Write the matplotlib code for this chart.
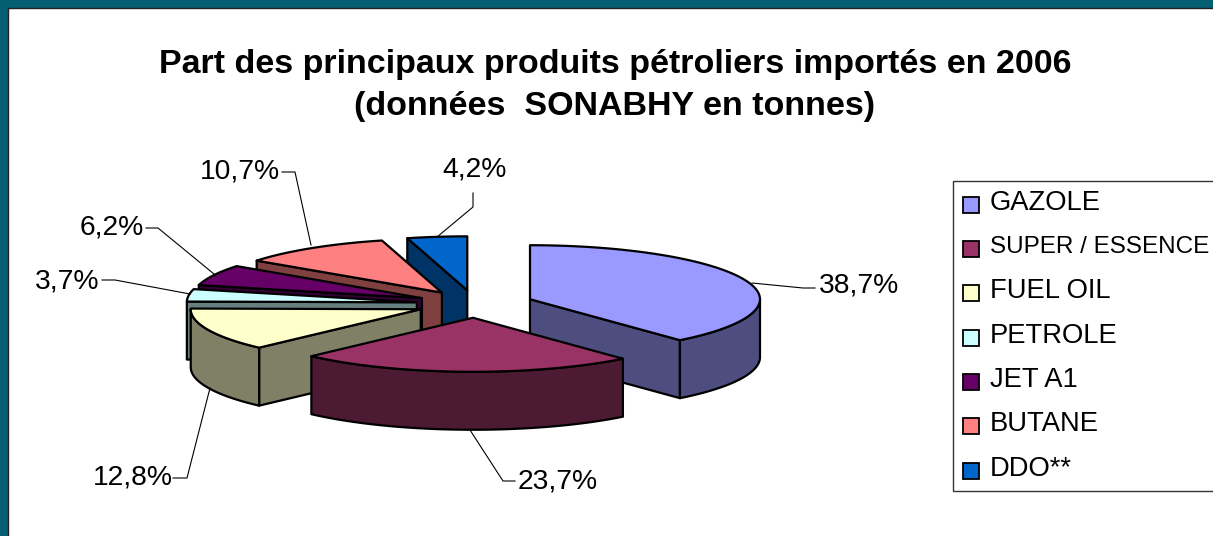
import numpy as np
from matplotlib import pyplot as plt
from matplotlib.patches import Polygon, Rectangle

title_lines = ['Part des principaux produits pétroliers importés en 2006',
               '(données  SONABHY en tonnes)']
products = ['GAZOLE', 'SUPER / ESSENCE', 'FUEL OIL', 'PETROLE', 'JET A1', 'BUTANE', 'DDO**']
shares = [38.7, 23.7, 12.8, 3.7, 6.2, 10.7, 4.2]
share_labels = ['38,7%', '23,7%', '12,8%', '3,7%', '6,2%', '10,7%', '4,2%']
top_colors = ['#9999FF', '#993366', '#FFFFCC', '#CCFFFF', '#660066', '#FF8080', '#0066CC']
side_colors = ['#4D4D80', '#4D1A33', '#808066', '#668080', '#330033', '#804040', '#003366']

# pie geometry, in pixels
cx, cy = 475, 304
rx, ry = 230, 54
depth = 58
explode = 0.255
edge_lw = 1.6

# label anchor (left x, centre y) and leader path for each slice
label_pos = [(819, 286), (518, 481), (93, 477), (35, 281), (80, 228), (200, 172), (442, 170)]
leaders = [
    [(752, 283), (803, 288), (815, 288)],
    [(470, 430), (503, 481), (515, 481)],
    [(173, 478), (187, 478), (210, 388)],
    [(102, 280), (115, 280), (190, 294)],
    [(146, 228), (158, 228), (214, 274)],
    [(282, 172), (295, 172), (311, 245)],
    [(473, 193), (473, 207), (437, 237)],
]


def rim(x0, y0, a0, a1, n=60):
    a = np.radians(np.linspace(a0, a1, n))
    return np.column_stack([x0 + rx * np.sin(a), y0 - ry * np.cos(a)])


def face(ax, pts, color, z):
    ax.add_patch(Polygon(pts, closed=True, facecolor=color, edgecolor='black',
                         linewidth=edge_lw, joinstyle='round', zorder=z))


fig = plt.figure(figsize=(12.13, 5.36), dpi=100, facecolor='#055F73')
ax = fig.add_axes([0, 0, 1, 1])
ax.set_xlim(0, 1213)
ax.set_ylim(536, 0)
ax.axis('off')
plt.rcParams['font.family'] = ['Liberation Sans', 'DejaVu Sans']

ax.add_patch(Rectangle((8, 8), 1210, 535, facecolor='white', edgecolor='#222222', linewidth=1, zorder=0))

ax.text(615, 64, title_lines[0], fontsize=24.5, fontweight='bold', ha='center', va='center')
ax.text(615, 106, title_lines[1], fontsize=24.5, fontweight='bold', ha='center', va='center')

# slice angles run clockwise from the top
ends = np.cumsum(shares) * 3.6
starts = ends - np.array(shares) * 3.6

# back slices first, the SUPER slice sits in front of everything
order = [6, 5, 4, 3, 2, 0, 1]
for z, i in enumerate(order):
    a0, a1 = starts[i], ends[i]
    mid = np.radians((a0 + a1) / 2)
    ax0 = cx + explode * rx * np.sin(mid)
    ay0 = cy - explode * ry * np.cos(mid)
    base = 2 + z * 0.1
    for ang, visible in ((a0, np.sin(np.radians(a0)) < 0), (a1, np.sin(np.radians(a1)) > 0)):
        if visible and 0 < ang < 360:
            p = rim(ax0, ay0, ang, ang, 1)[0]
            face(ax, [(ax0, ay0), p, (p[0], p[1] + depth), (ax0, ay0 + depth)], side_colors[i], base)
    lo, hi = max(a0, 90), min(a1, 270)
    if lo < hi:
        arc = rim(ax0, ay0, lo, hi)
        low = arc[::-1] + [0, depth]
        face(ax, np.vstack([arc, low]), side_colors[i], base + 0.02)
    face(ax, np.vstack([[(ax0, ay0)], rim(ax0, ay0, a0, a1)]), top_colors[i], base + 0.04)

for i in range(len(shares)):
    xs, ys = zip(*leaders[i])
    ax.plot(xs, ys, color='black', linewidth=0.8, zorder=10)
    ax.text(label_pos[i][0], label_pos[i][1], share_labels[i], fontsize=20.3, ha='left', va='center', zorder=11)

# legend box, open on the right like in the original
ax.add_patch(Rectangle((953, 181), 280, 310, facecolor='white', edgecolor='#333333', linewidth=1, zorder=1))
leg_y = [205, 249, 293, 338, 382, 426, 471]
# the long label is squeezed so it stays inside the picture
leg_size = [19.7, 17.5, 19.7, 19.7, 19.7, 19.7, 19.7]
for name, col, y, size in zip(products, top_colors, leg_y, leg_size):
    ax.add_patch(Rectangle((963, y - 8), 16, 16, facecolor=col, edgecolor='black', linewidth=1.3, zorder=2))
    ax.text(990, y - 2, name, fontsize=size, ha='left', va='center', zorder=2)

plt.savefig('out.png', dpi=100, facecolor=fig.get_facecolor())
